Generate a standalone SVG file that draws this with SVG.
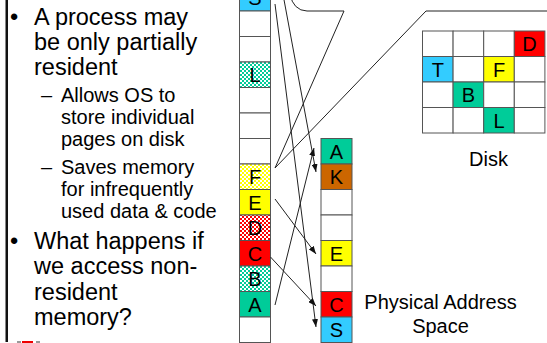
<svg xmlns="http://www.w3.org/2000/svg" width="547" height="343" viewBox="0 0 547 343">
<defs>
<style>
.cell{stroke:#555;stroke-width:1}
.w{fill:#fff}
.lbl{font-family:"Liberation Sans",Arial,sans-serif;font-size:20px;text-anchor:middle;fill:#000}
.t1{font-family:"Liberation Sans",Arial,sans-serif;font-size:23.5px;fill:#000}
.t2{font-family:"Liberation Sans",Arial,sans-serif;font-size:20px;fill:#000}
.cap{font-family:"Liberation Sans",Arial,sans-serif;font-size:20px;text-anchor:middle;fill:#000}
.ln{stroke:#222;stroke-width:1;fill:none}
</style>
<marker id="ah" markerUnits="userSpaceOnUse" markerWidth="8" markerHeight="6" refX="8" refY="3" orient="auto">
<path d="M0,0 L8,3 L0,6 z" fill="#111"/>
</marker>
<pattern id="pg" width="4" height="4" patternUnits="userSpaceOnUse">
<rect width="4" height="4" fill="#00CC99"/><rect width="2" height="2" fill="#fff"/><rect x="2" y="2" width="2" height="2" fill="#fff"/>
</pattern>
<pattern id="py" width="4" height="4" patternUnits="userSpaceOnUse">
<rect width="4" height="4" fill="#FFFF00"/><rect width="2" height="2" fill="#fff"/><rect x="2" y="2" width="2" height="2" fill="#fff"/>
</pattern>
<pattern id="pr" width="4" height="4" patternUnits="userSpaceOnUse">
<rect width="4" height="4" fill="#FF0000"/><rect width="2" height="2" fill="#fff"/><rect x="2" y="2" width="2" height="2" fill="#fff"/>
</pattern>
</defs>
<rect width="547" height="343" fill="#fff"/>

<g id="text-panel">
<rect x="5.5" y="0" width="2.5" height="342" fill="#111"/>
<rect x="22" y="341" width="11" height="2" fill="#e00"/>
<rect x="17" y="341" width="4" height="2" fill="#999"/>
<rect x="36" y="341" width="4" height="2" fill="#999"/>
<text class="t1" x="10" y="25">•</text>
<text class="t1" x="34" y="25">A process may</text>
<text class="t1" x="34" y="50">be only partially</text>
<text class="t1" x="34" y="75">resident</text>
<text class="t2" x="41" y="101.5">–</text>
<text class="t2" x="61" y="101.5">Allows OS to</text>
<text class="t2" x="61" y="123.5">store individual</text>
<text class="t2" x="61" y="145.5">pages on disk</text>
<text class="t2" x="41" y="174">–</text>
<text class="t2" x="61" y="174">Saves memory</text>
<text class="t2" x="61" y="196">for infrequently</text>
<text class="t2" x="61" y="218">used data &amp; code</text>
<text class="t1" x="10" y="249">•</text>
<text class="t1" x="34" y="249">What happens if</text>
<text class="t1" x="34" y="274">we access non-</text>
<text class="t1" x="34" y="299.5">resident</text>
<text class="t1" x="34" y="325">memory?</text>
</g>

<g id="virtual-space">
<rect class="cell" x="239.5" y="-14.5" width="31" height="25.5" fill="#33CCFF"/>
<text class="lbl" x="255" y="5">S</text>
<rect class="cell w" x="239.5" y="11" width="31" height="25.5"/>
<rect class="cell w" x="239.5" y="36.5" width="31" height="25.5"/>
<rect class="cell" x="239.5" y="62" width="31" height="25.5" fill="url(#pg)"/>
<text class="lbl" x="255" y="82">L</text>
<rect class="cell w" x="239.5" y="87.5" width="31" height="25.5"/>
<rect class="cell w" x="239.5" y="113" width="31" height="25.5"/>
<rect class="cell w" x="239.5" y="138.5" width="31" height="25.5"/>
<rect class="cell" x="239.5" y="164" width="31" height="25.5" fill="url(#py)"/>
<text class="lbl" x="255" y="184">F</text>
<rect class="cell" x="239.5" y="189.5" width="31" height="25.5" fill="#FFFF00"/>
<text class="lbl" x="255" y="209.5">E</text>
<rect class="cell" x="239.5" y="215" width="31" height="25.5" fill="url(#pr)"/>
<text class="lbl" x="255" y="235">D</text>
<rect class="cell" x="239.5" y="240.5" width="31" height="25.5" fill="#FF0000"/>
<text class="lbl" x="255" y="260.5">C</text>
<rect class="cell" x="239.5" y="266" width="31" height="25.5" fill="url(#pg)"/>
<text class="lbl" x="255" y="286">B</text>
<rect class="cell" x="239.5" y="291.5" width="31" height="25.5" fill="#00CC99"/>
<text class="lbl" x="255" y="311.5">A</text>
<rect class="cell w" x="239.5" y="317" width="31" height="25.5"/>
</g>

<g id="physical-space">
<rect class="cell" x="321" y="138.5" width="31" height="25.5" fill="#00CC99"/>
<text class="lbl" x="336.5" y="158.5">A</text>
<rect class="cell" x="321" y="164" width="31" height="25.5" fill="#CC6600"/>
<text class="lbl" x="336.5" y="184">K</text>
<rect class="cell w" x="321" y="189.5" width="31" height="25.5"/>
<rect class="cell w" x="321" y="215" width="31" height="25.5"/>
<rect class="cell" x="321" y="240.5" width="31" height="25.5" fill="#FFFF00"/>
<text class="lbl" x="336.5" y="260.5">E</text>
<rect class="cell w" x="321" y="266" width="31" height="25.5"/>
<rect class="cell" x="321" y="291.5" width="31" height="25.5" fill="#FF0000"/>
<text class="lbl" x="336.5" y="311.5">C</text>
<rect class="cell" x="321" y="317" width="31" height="25.5" fill="#33CCFF"/>
<text class="lbl" x="336.5" y="337">S</text>
<text class="cap" x="440.5" y="308.5">Physical Address</text>
<text class="cap" x="440.5" y="332.5">Space</text>
</g>

<g id="disk">
<g fill="#fff" stroke="#555" stroke-width="1">
<rect x="422.5" y="31" width="30.6" height="25.5"/><rect x="453.1" y="31" width="30.6" height="25.5"/><rect x="483.7" y="31" width="30.6" height="25.5"/><rect x="514.3" y="31" width="30.6" height="25.5" fill="#FF0000"/>
<rect x="422.5" y="56.5" width="30.6" height="25.5" fill="#33CCFF"/><rect x="453.1" y="56.5" width="30.6" height="25.5"/><rect x="483.7" y="56.5" width="30.6" height="25.5" fill="#FFFF00"/><rect x="514.3" y="56.5" width="30.6" height="25.5"/>
<rect x="422.5" y="82" width="30.6" height="25.5"/><rect x="453.1" y="82" width="30.6" height="25.5" fill="#00CC99"/><rect x="483.7" y="82" width="30.6" height="25.5"/><rect x="514.3" y="82" width="30.6" height="25.5"/>
<rect x="422.5" y="107.5" width="30.6" height="25.5"/><rect x="453.1" y="107.5" width="30.6" height="25.5"/><rect x="483.7" y="107.5" width="30.6" height="25.5" fill="#00CC99"/><rect x="514.3" y="107.5" width="30.6" height="25.5"/>
</g>
<text class="lbl" x="529.6" y="51">D</text>
<text class="lbl" x="437.8" y="76.5">T</text>
<text class="lbl" x="499" y="76.5">F</text>
<text class="lbl" x="468.4" y="102">B</text>
<text class="lbl" x="499" y="127.5">L</text>
<text class="cap" x="488.5" y="165.5">Disk</text>
</g>

<g id="connectors">
<path class="ln" d="M291 -5 A16 16 0 0 0 307 11 L344 11"/>
<line class="ln" x1="426" y1="11" x2="547" y2="11"/>
<line class="ln" x1="275" y1="168" x2="344" y2="11"/>
<line class="ln" x1="275" y1="168" x2="426" y2="11"/>
<line class="ln" x1="275" y1="4" x2="316" y2="327" marker-end="url(#ah)"/>
<line class="ln" x1="283.5" y1="-3" x2="316" y2="172" marker-end="url(#ah)"/>
<line class="ln" x1="275" y1="305" x2="314" y2="148" marker-end="url(#ah)"/>
<line class="ln" x1="275" y1="199" x2="316" y2="254" marker-end="url(#ah)"/>
<line class="ln" x1="270.5" y1="257" x2="316" y2="306" marker-end="url(#ah)"/>
</g>
</svg>
